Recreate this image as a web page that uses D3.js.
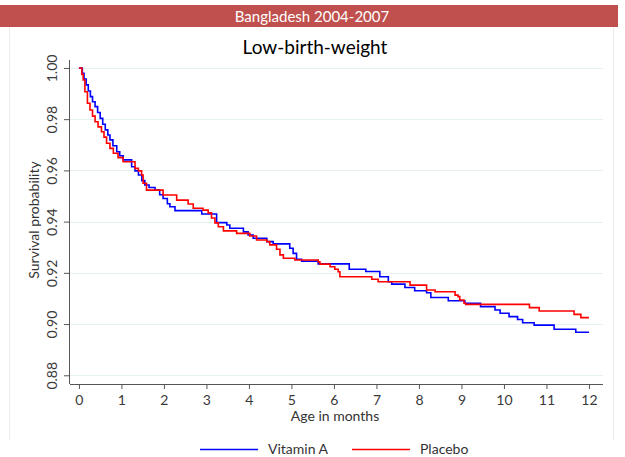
<!DOCTYPE html>
<html><head><meta charset="utf-8">
<script src="https://cdn.jsdelivr.net/npm/d3@7/dist/d3.min.js"></script>
<style>body{margin:0;background:#fff;}svg{display:block;font-family:Lato,"Open Sans",sans-serif;}</style>
</head><body><svg id="c" width="625" height="457"></svg>
<script>
const vitaTimes = [0,0.08,0.12,0.17,0.22,0.27,0.32,0.38,0.44,0.50,0.56,0.62,0.68,0.73,0.80,0.89,0.96,1.04,1.24,1.32,1.40,1.48,1.55,1.65,1.79,1.90,1.98,2.08,2.14,2.26,2.89,3.24,3.48,3.55,3.87,3.98,4.10,4.42,4.57,4.96,5.04,5.12,5.24,5.63,6.36,6.75,7.08,7.28,7.36,7.67,7.90,8.18,8.28,8.69,9.08,9.45,9.79,9.91,10.12,10.32,10.44,10.71,11.18,11.69,12.0];
const vitaSurv  = [1.0,0.9979,0.9957,0.9934,0.991,0.9888,0.9868,0.9849,0.9826,0.9803,0.978,0.9758,0.9738,0.9719,0.9696,0.9673,0.9657,0.9641,0.9614,0.9598,0.9582,0.956,0.9543,0.9533,0.9523,0.9505,0.949,0.947,0.9458,0.9443,0.943,0.9396,0.9387,0.9374,0.936,0.9348,0.9335,0.9322,0.9313,0.9296,0.9276,0.9253,0.9245,0.9235,0.9214,0.9205,0.9185,0.9165,0.9156,0.9143,0.913,0.9122,0.9104,0.9091,0.9081,0.9068,0.9055,0.9042,0.9029,0.9018,0.9005,0.8996,0.898,0.8968,0.8968];
const placTimes = [0,0.07,0.10,0.14,0.20,0.26,0.32,0.38,0.45,0.53,0.59,0.65,0.73,0.81,0.92,1.04,1.32,1.40,1.475,1.51,1.59,1.98,2.30,2.57,2.69,2.92,3.04,3.12,3.20,3.28,3.40,3.71,4.02,4.18,4.42,4.49,4.65,4.73,4.81,5.08,5.63,5.67,5.91,6.02,6.10,6.14,6.89,7.04,7.79,8.18,8.38,8.85,8.92,8.96,9.06,9.10,10.60,10.83,11.65,11.81,12.0];
const placSurv  = [1.0,0.9975,0.9953,0.9907,0.9862,0.9836,0.9812,0.979,0.977,0.9751,0.973,0.9706,0.9686,0.9667,0.965,0.9634,0.9608,0.9598,0.9582,0.955,0.9523,0.9504,0.9484,0.9469,0.9452,0.9445,0.9434,0.9414,0.9395,0.938,0.9364,0.9354,0.9344,0.9328,0.9322,0.9309,0.9292,0.927,0.9257,0.925,0.9243,0.9234,0.9224,0.9214,0.9204,0.9185,0.9175,0.9165,0.9152,0.9133,0.9126,0.9113,0.9107,0.9094,0.9081,0.9077,0.9064,0.9051,0.9038,0.9025,0.9025];
const xTicks = [0,1,2,3,4,5,6,7,8,9,10,11,12];
const yTicks = [0.88,0.90,0.92,0.94,0.96,0.98,1.00];
const seriesNames = ["Vitamin A","Placebo"];
const seriesColors = ["#0000ff","#ff0000"];

const svg = d3.select("#c");
// banner
svg.append("rect").attr("x",0).attr("y",5).attr("width",618).attr("height",22).attr("fill","#c0504d");
svg.append("text").attr("x",312).attr("y",22).attr("text-anchor","middle").attr("fill","#fff").attr("font-size",15).text("Bangladesh 2004-2007");
// panel borders
svg.append("line").attr("x1",9.5).attr("x2",9.5).attr("y1",27).attr("y2",440).attr("stroke","#ececec");
svg.append("line").attr("x1",613.5).attr("x2",613.5).attr("y1",27).attr("y2",440).attr("stroke","#ececec");
// title
svg.append("text").attr("x",315).attr("y",54).attr("text-anchor","middle").attr("fill","#000").attr("font-size",19).text("Low-birth-weight");

const x = d3.scaleLinear().domain([-0.21,12.26]).range([70,600]);
const y = d3.scaleLinear().domain([0.8766,1.0031]).range([384,60]);

// grid
svg.append("g").selectAll("line").data(yTicks).join("line")
  .attr("x1",70).attr("x2",603).attr("y1",d=>Math.round(y(d))+0.5).attr("y2",d=>Math.round(y(d))+0.5)
  .attr("stroke","#e6eff1").attr("stroke-width",1);

// axes
const xa = svg.append("g").attr("transform","translate(0,384)").call(d3.axisBottom(x).tickValues(xTicks).tickFormat(d3.format("d")).tickSize(5).tickSizeOuter(0));
const ya = svg.append("g").attr("transform","translate(70,0)").call(d3.axisLeft(y).tickValues(yTicks).tickFormat(d3.format(".2f")).tickSize(6).tickSizeOuter(0));
[xa,ya].forEach(a=>{a.select(".domain").attr("stroke","#555");a.selectAll(".tick line").attr("stroke","#555");a.selectAll("text").attr("fill","#3a3a3a").attr("font-size",14).attr("font-family","Lato,sans-serif");});
xa.select(".domain").attr("d","M70,0.5H603");
ya.select(".domain").attr("d","M-0.5,60V384");
xa.selectAll(".tick text").attr("y",8).attr("dy","0.95em");
ya.selectAll(".tick").each(function(){const t=d3.select(this);t.select("text").attr("transform","translate(-18,0) rotate(-90)").attr("text-anchor","middle").attr("x",0).attr("y",0).attr("dy","0.35em");});

// axis titles
svg.append("text").attr("x",335).attr("y",421).attr("text-anchor","middle").attr("fill","#333").attr("font-size",14).text("Age in months");
svg.append("text").attr("transform","translate(39,220) rotate(-90)").attr("text-anchor","middle").attr("fill","#333").attr("font-size",14).text("Survival probability");

// curves
const line = d3.line().x(d=>x(d[0])).y(d=>y(d[1])).curve(d3.curveStepAfter);
const series = [d3.zip(vitaTimes,vitaSurv), d3.zip(placTimes,placSurv)];
svg.append("g").selectAll("path").data(series).join("path")
  .attr("d",line).attr("fill","none").attr("stroke",(d,i)=>seriesColors[i]).attr("stroke-width",1.6);

// legend
const lg = svg.append("g");
const lx = [200,352];
seriesNames.forEach((n,i)=>{
  lg.append("line").attr("x1",lx[i]).attr("x2",lx[i]+58).attr("y1",449.5).attr("y2",449.5).attr("stroke",seriesColors[i]).attr("stroke-width",1.6);
  lg.append("text").attr("x",lx[i]+68).attr("y",454).attr("fill","#333").attr("font-size",14).text(n);
});
</script></body></html>
